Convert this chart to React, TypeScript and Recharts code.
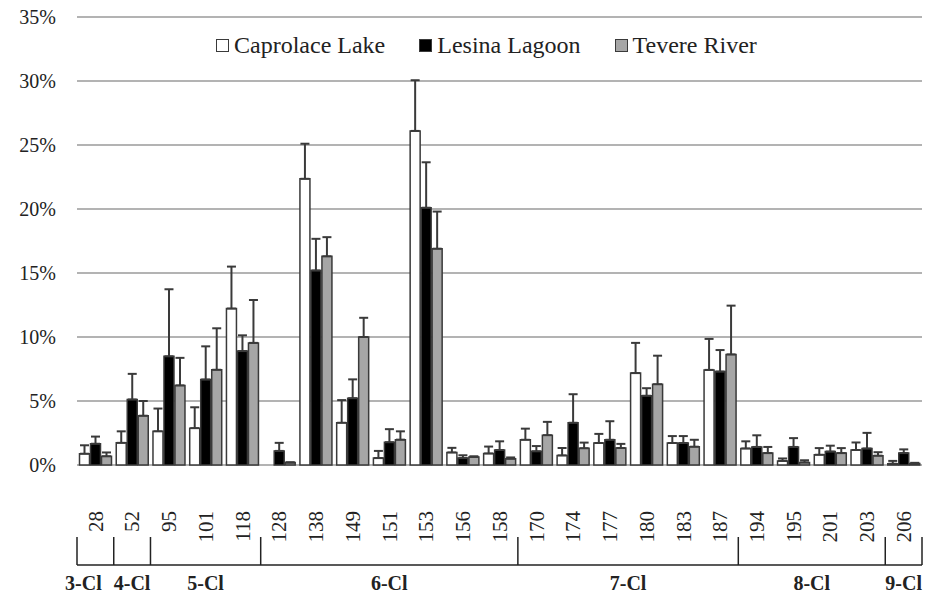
import { BarChart, Bar, XAxis, YAxis, CartesianGrid, ErrorBar, Legend } from 'recharts';

const categories = ['28', '52', '95', '101', '118', '128', '138', '149', '151', '153', '156', '158',
  '170', '174', '177', '180', '183', '187', '194', '195', '201', '203', '206'];

// mean % and upper error (SD) per congener
const caprolace = [0.88, 1.73, 2.63, 2.88, 12.22, 0, 22.36, 3.3, 0.54, 26.1, 0.98, 0.9,
  1.97, 0.75, 1.72, 7.18, 1.72, 7.43, 1.29, 0.32, 0.8, 1.17, 0.1];
const caprolaceSd = [0.66, 0.9, 1.78, 1.63, 3.28, 0, 2.74, 1.77, 0.56, 3.96, 0.36, 0.54,
  0.87, 0.58, 0.71, 2.36, 0.54, 2.42, 0.56, 0.19, 0.52, 0.59, 0.22];
const lesina = [1.66, 5.12, 8.49, 6.68, 8.9, 1.1, 15.2, 5.22, 1.78, 20.1, 0.54, 1.17,
  1.07, 3.3, 1.97, 5.41, 1.72, 7.3, 1.41, 1.41, 1.05, 1.29, 0.93];
const lesinaSd = [0.56, 2.0, 5.24, 2.59, 1.23, 0.63, 2.47, 1.47, 1.02, 3.55, 0.22, 0.68,
  0.41, 2.23, 1.45, 0.59, 0.54, 1.68, 0.91, 0.69, 0.46, 1.22, 0.29];
const tevere = [0.68, 3.85, 6.22, 7.44, 9.54, 0.2, 16.3, 10.0, 1.98, 16.9, 0.63, 0.49,
  2.33, 1.31, 1.33, 6.31, 1.43, 8.64, 0.93, 0.2, 0.93, 0.73, 0.12];
const tevereSd = [0.3, 1.15, 2.15, 3.24, 3.35, 0, 1.5, 1.5, 0.65, 2.9, 0.05, 0.1,
  1.04, 0.44, 0.32, 2.23, 0.54, 3.81, 0.48, 0.17, 0.39, 0.27, 0.05];

const groups = ['3-Cl', '4-Cl', '5-Cl', '6-Cl', '7-Cl', '8-Cl', '9-Cl'];
const groupSizes = [1, 1, 3, 7, 6, 4, 1];

const yTicks = [0, 5, 10, 15, 20, 25, 30, 35];

const data = categories.map((c, i) => ({
  name: c,
  caprolace: caprolace[i],
  caprolaceErr: [0, caprolaceSd[i]],
  lesina: lesina[i],
  lesinaErr: [0, lesinaSd[i]],
  tevere: tevere[i],
  tevereErr: [0, tevereSd[i]],
}));

const W = 934;
const H = 596;
const MARGIN = { top: 17, right: 12, left: 0, bottom: 0 };
const Y_WIDTH = 77;
const X_HEIGHT = 103;
const PLOT_LEFT = MARGIN.left + Y_WIDTH;
const PLOT_RIGHT = W - MARGIN.right;
const PLOT_BOTTOM = H - MARGIN.bottom - X_HEIGHT;
const BAND = (PLOT_RIGHT - PLOT_LEFT) / categories.length;

const FONT = "'Liberation Serif', 'Times New Roman', serif";
const INK = '#222';
const EDGE = '#3a3a3a';

const groupStart: Record<number, number> = {};
let acc = 0;
groupSizes.forEach((s, g) => {
  groupStart[acc] = g;
  acc += s;
});

function CategoryTick(props: any) {
  const { x, payload } = props;
  const i = payload.index;
  const left = x - BAND / 2;
  const lineY = PLOT_BOTTOM + 72;
  const g = groupStart[i];
  return (
    <g>
      <text
        x={x}
        y={PLOT_BOTTOM + 18}
        transform={`rotate(-90 ${x} ${PLOT_BOTTOM + 18})`}
        textAnchor="end"
        dy="0.35em"
        style={{ fontFamily: FONT, fontSize: 21 }}
        fill={INK}
      >
        {payload.value}
      </text>
      {i === 0 && (
        <line x1={left} x2={left + BAND * categories.length} y1={lineY} y2={lineY} stroke={INK} strokeWidth={1.5} />
      )}
      {g !== undefined && (
        <>
          <line x1={left} x2={left} y1={lineY - 28} y2={lineY} stroke={INK} strokeWidth={1.5} />
          <text
            x={left + (groupSizes[g] * BAND) / 2 - (g === 0 ? 12 : 0)}
            y={H - 6}
            textAnchor="middle"
            style={{ fontFamily: FONT, fontSize: 20, fontWeight: 'bold' }}
            fill={INK}
          >
            {groups[g]}
          </text>
        </>
      )}
      {i === categories.length - 1 && (
        <line x1={x + BAND / 2} x2={x + BAND / 2} y1={lineY - 28} y2={lineY} stroke={INK} strokeWidth={1.5} />
      )}
    </g>
  );
}

const legendItems = [
  { label: 'Caprolace Lake', fill: '#ffffff' },
  { label: 'Lesina Lagoon', fill: '#000000' },
  { label: 'Tevere River', fill: '#a6a6a6' },
];

function LegendContent() {
  return (
    <div style={{ display: 'flex', alignItems: 'center', gap: 34, fontFamily: FONT, fontSize: 24, color: INK, lineHeight: '28px' }}>
      {legendItems.map((it) => (
        <div key={it.label} style={{ display: 'flex', alignItems: 'center', gap: 5 }}>
          <span style={{ width: 11, height: 11, background: it.fill, border: `1.5px solid ${EDGE}`, display: 'inline-block' }} />
          <span>{it.label}</span>
        </div>
      ))}
    </div>
  );
}

export default function App() {
  return (
    <div style={{ position: 'absolute', left: 0, top: 0, background: '#fff', fontFamily: FONT }}>
      <BarChart width={W} height={H} data={data} margin={MARGIN} barCategoryGap={2.5} barGap={1}>
        <CartesianGrid vertical={false} stroke="#9a9a9a" strokeWidth={1.6} />
        <XAxis
          dataKey="name"
          interval={0}
          height={X_HEIGHT}
          axisLine={false}
          tickLine={false}
          tick={<CategoryTick />}
        />
        <YAxis
          width={Y_WIDTH}
          domain={[0, 35]}
          ticks={yTicks}
          axisLine={false}
          tickLine={false}
          tickMargin={15}
          tickFormatter={(v) => `${v}%`}
          tick={{ style: { fontFamily: FONT }, fontSize: 20, fill: INK }}
        />
        <Legend
          content={<LegendContent />}
          wrapperStyle={{ top: 31, left: 216, width: 'auto' }}
        />
        <Bar dataKey="caprolace" name="Caprolace Lake" fill="#ffffff" stroke={EDGE} strokeWidth={1.5} isAnimationActive={false}>
          <ErrorBar dataKey="caprolaceErr" width={4.5} stroke={EDGE} strokeWidth={2} direction="y" />
        </Bar>
        <Bar dataKey="lesina" name="Lesina Lagoon" fill="#000000" stroke={EDGE} strokeWidth={1.5} isAnimationActive={false}>
          <ErrorBar dataKey="lesinaErr" width={4.5} stroke={EDGE} strokeWidth={2} direction="y" />
        </Bar>
        <Bar dataKey="tevere" name="Tevere River" fill="#a6a6a6" stroke={EDGE} strokeWidth={1.5} isAnimationActive={false}>
          <ErrorBar dataKey="tevereErr" width={4.5} stroke={EDGE} strokeWidth={2} direction="y" />
        </Bar>
      </BarChart>
    </div>
  );
}
